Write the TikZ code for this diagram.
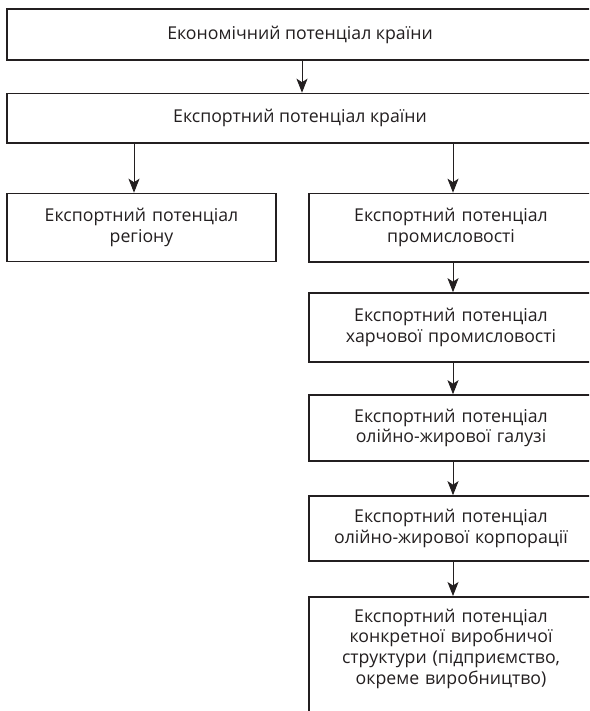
\documentclass[tikz,border=0pt]{standalone}
\usepackage{fontspec}
\setmainfont{Open Sans}
\usetikzlibrary{arrows.meta}
\definecolor{ink}{HTML}{231F20}
\tikzset{
  box/.style={draw=ink, line width=1.6pt, text=ink, align=center, inner sep=0pt,
    font=\fontsize{17.7}{20.7}\selectfont},
  arr/.style={draw=ink, line width=0.9pt, -{Stealth[length=14pt,width=11pt,inset=3.5pt]}}
}
\begin{document}
\begin{tikzpicture}[x=1pt,y=-1pt]
\useasboundingbox (0,0) rectangle (589,711);
\clip (0,0) rectangle (589,711);
\fill[white] (0,0) rectangle (589,711);
\node[box, minimum width=586pt, minimum height=51pt] (top) at (300,34.5) {Економічний потенціал країни};
\node[box, minimum width=586pt, minimum height=49.5pt] (exp) at (300,118.25) {Експортний потенціал країни};
\node[box, minimum width=269pt, minimum height=68pt, text width=265pt] (reg) at (141.5,227.5) {Експортний потенціал\\регіону};
\node[box, minimum width=284pt, minimum height=68.5pt, text width=280pt] (r1) at (451,227.75) {Експортний потенціал\\промисловості};
\node[box, minimum width=284pt, minimum height=69pt, text width=280pt] (r2) at (451,327.5) {Експортний потенціал\\харчової промисловості};
\node[box, minimum width=284pt, minimum height=66pt, text width=280pt] (r3) at (451,428) {Експортний потенціал\\олійно-жирової галузі};
\node[box, minimum width=284pt, minimum height=65pt, text width=280pt] (r4) at (451,528.5) {Експортний потенціал\\олійно-жирової корпорації};
\node[box, minimum width=284pt, minimum height=150pt, anchor=north] (r5) at (451,596) {};
\node[box, draw=none, text width=280pt] (r5t) at (451,648.5) {Експортний потенціал\\конкретної виробничої\\структури (підприємство,\\окреме виробництво)};
\draw[arr] ([xshift=2pt]top.south) -- ([xshift=2pt]exp.north);
\draw[arr] ([xshift=-7.5pt]reg.north |- exp.south) -- ([xshift=-7.5pt]reg.north);
\draw[arr] ([xshift=2pt]r1.north |- exp.south) -- ([xshift=2pt]r1.north);
\draw[arr] ([xshift=2pt]r1.south) -- ([xshift=2pt]r2.north);
\draw[arr] ([xshift=2pt]r2.south) -- ([xshift=2pt]r3.north);
\draw[arr] ([xshift=2pt]r3.south) -- ([xshift=2pt]r4.north);
\draw[arr] ([xshift=2pt]r4.south) -- ([xshift=2pt]r5.north);
\end{tikzpicture}
\end{document}
